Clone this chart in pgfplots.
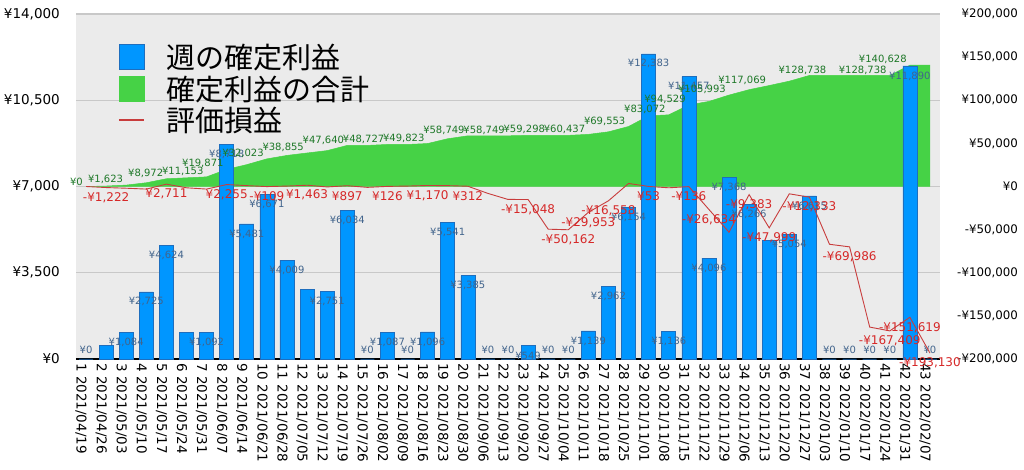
\documentclass[border=0pt]{standalone}
\usepackage{fontspec}
\setmainfont{DejaVu Sans}
\newfontfamily\jp{Noto Sans CJK JP}
\usepackage{pgfplots}
\usepackage{pgfplotstable}
\pgfplotsset{compat=1.18}

\definecolor{bg}{RGB}{235,235,235}
\definecolor{gridc}{RGB}{200,200,200}
\definecolor{barblue}{RGB}{0,150,255}
\definecolor{baredge}{RGB}{30,110,190}
\definecolor{areagreen}{RGB}{70,210,70}
\definecolor{linered}{RGB}{200,60,60}
\definecolor{labred}{RGB}{214,40,40}
\definecolor{labgreen}{RGB}{30,120,40}
\definecolor{labblue}{RGB}{65,100,140}

\pgfplotstableread{
wk w c e wlab zlab clab elab
1 0 0 0 {} ¥0 ¥0 {}
2 539 539 -1222 {} {} {} -¥1,222
3 1084 1623 -2000 ¥1,084 {} ¥1,623 {}
4 2725 4348 -3000 ¥2,725 {} {} {}
5 4624 8972 2711 ¥4,624 {} ¥8,972 ¥2,711
6 1089 10061 -1500 {} {} {} {}
7 1092 11153 -3000 ¥1,092 {} ¥11,153 {}
8 8718 19871 2255 ¥8,718 {} ¥19,871 ¥2,255
9 5481 25352 1000 ¥5,481 {} {} {}
10 6671 32023 -109 ¥6,671 {} ¥32,023 -¥109
11 4009 36032 500 ¥4,009 {} {} {}
12 2823 38855 1463 {} {} ¥38,855 ¥1,463
13 2751 41606 -500 ¥2,751 {} {} {}
14 6034 47640 897 ¥6,034 {} ¥47,640 ¥897
15 0 47640 -1000 {} ¥0 {} {}
16 1087 48727 126 ¥1,087 {} ¥48,727 ¥126
17 0 48727 500 {} ¥0 {} {}
18 1096 49823 1170 ¥1,096 {} ¥49,823 ¥1,170
19 5541 55364 1000 ¥5,541 {} {} {}
20 3385 58749 312 ¥3,385 {} ¥58,749 ¥312
21 0 58749 -8000 {} ¥0 {} {}
22 0 58749 -15000 {} ¥0 ¥58,749 {}
23 549 59298 -15048 ¥549 {} {} -¥15,048
24 0 59298 -49500 {} ¥0 ¥59,298 {}
25 0 59298 -50162 {} ¥0 {} -¥50,162
26 1139 60437 -29953 ¥1,139 {} ¥60,437 -¥29,953
27 2962 63399 -16558 ¥2,962 {} {} -¥16,558
28 6154 69553 3500 ¥6,154 {} ¥69,553 {}
29 12383 81936 53 ¥12,383 {} {} ¥53
30 1136 83072 -1500 ¥1,136 {} ¥83,072 {}
31 11457 94529 -136 ¥11,457 {} ¥94,529 -¥136
32 4096 98625 -26634 ¥4,096 {} {} -¥26,634
33 7368 105993 -53000 ¥7,368 {} ¥105,993 {}
34 6266 112259 -9383 ¥6,266 {} {} -¥9,383
35 4810 117069 -47999 {} {} ¥117,069 -¥47,999
36 5054 122123 -8500 ¥5,054 {} {} {}
37 6615 128738 -12333 ¥6,615 {} {} -¥12,333
38 0 128738 -67000 {} ¥0 ¥128,738 {}
39 0 128738 -69986 {} ¥0 {} -¥69,986
40 0 128738 -163000 {} ¥0 {} {}
41 0 128738 -167409 {} ¥0 ¥128,738 -¥167,409
42 11890 140628 -151619 ¥11,890 {} ¥140,628 -¥151,619
43 0 140628 -193130 {} ¥0 {} -¥193,130
}\data

\pgfplotsset{base/.style={scale only axis, width=864pt, height=345pt,
  xmin=0.5, xmax=43.5, at={(0pt,0pt)}, anchor=south west,
  scaled x ticks=false, scaled y ticks=false}}

\begin{document}
\begin{tikzpicture}
\useasboundingbox (-76pt,-111pt) rectangle (948pt,359pt);
% background, grid, cumulative area (right scale)
\begin{axis}[base, ymin=-200000, ymax=200000,
  axis background/.style={fill=bg},
  ytick={-200000,-100000,0,100000,200000}, yticklabels={},
  xtick=\empty, ymajorgrids, grid style={gridc, line width=1.2pt},
  axis line style={draw=none}, major tick length=0pt]
\addplot[fill=areagreen, draw=areagreen, line width=0.5pt, mark=none] table[x=wk, y=c] {\data} \closedcycle;
\end{axis}
% weekly bars (left scale)
\begin{axis}[base, ymin=0, ymax=14000, clip=false,
  ytick={0,3500,7000,10500,14000},
  yticklabels={{¥0},{¥3,500},{¥7,000},{¥10,500},{¥14,000}},
  xtick={1,2,...,43},
  xticklabels={1 2021/04/19,2 2021/04/26,3 2021/05/03,4 2021/05/10,5 2021/05/17,6 2021/05/24,7 2021/05/31,8 2021/06/07,9 2021/06/14,10 2021/06/21,11 2021/06/28,12 2021/07/05,13 2021/07/12,14 2021/07/19,15 2021/07/26,16 2021/08/02,17 2021/08/09,18 2021/08/16,19 2021/08/23,20 2021/08/30,21 2021/09/06,22 2021/09/13,23 2021/09/20,24 2021/09/27,25 2021/10/04,26 2021/10/11,27 2021/10/18,28 2021/10/25,29 2021/11/01,30 2021/11/08,31 2021/11/15,32 2021/11/22,33 2021/11/29,34 2021/12/06,35 2021/12/13,36 2021/12/20,37 2021/12/27,38 2022/01/03,39 2022/01/10,40 2022/01/17,41 2022/01/24,42 2022/01/31,43 2022/02/07},
  axis x line*=bottom, axis y line*=left,
  x axis line style={black, line width=2pt},
  y axis line style={draw=none}, major tick length=0pt,
  yticklabel style={anchor=east, inner sep=0pt, xshift=-16pt, font=\fontsize{13.5}{14}\selectfont},
  xticklabel style={anchor=west, inner sep=0pt, xshift=-5pt, yshift=-4pt, rotate=-90, font=\fontsize{13.5}{14}\selectfont}]
\addplot[ybar, bar width=14pt, bar shift=0pt, fill=barblue, draw=baredge, line width=0.6pt,
  nodes near coords, point meta=explicit symbolic,
  every node near coord/.append style={anchor=center, yshift=-10pt, inner sep=0pt, font=\fontsize{10}{10}\selectfont, text=labblue}]
  table[x=wk, y=w, meta=wlab] {\data};
\addplot[draw=none, mark=none, nodes near coords, point meta=explicit symbolic,
  every node near coord/.append style={anchor=center, yshift=9pt, inner sep=0pt, font=\fontsize{10}{10}\selectfont, text=labblue}]
  table[x=wk, y=w, meta=zlab] {\data};
\end{axis}
% evaluation line, labels, right axis, legend
\begin{axis}[base, ymin=-200000, ymax=200000, clip=false,
  axis x line=none, axis y line*=right, y axis line style={draw=none},
  major tick length=0pt,
  ytick={-200000,-150000,-100000,-50000,0,50000,100000,150000,200000},
  yticklabels={{-¥200,000},{-¥150,000},{-¥100,000},{-¥50,000},{¥0},{¥50,000},{¥100,000},{¥150,000},{¥200,000}},
  yticklabel style={anchor=east, inner sep=0pt, xshift=78pt, font=\fontsize{11.8}{12}\selectfont},
  legend style={at={(0.0486,0.913)}, anchor=north west, draw=none, fill=none,
    font=\jp\fontsize{29}{31}\selectfont, row sep=5.5pt, inner sep=0pt,
    nodes={inner sep=0pt}, /tikz/every odd column/.append style={column sep=22pt}},
  legend cell align=left]
\addlegendimage{legend image code/.code={\draw[fill=barblue, draw=baredge] (0pt,-12.5pt) rectangle (25pt,12.5pt);}}
\addlegendentry{週の確定利益}
\addlegendimage{legend image code/.code={\draw[fill=areagreen, draw=areagreen] (0pt,-12.5pt) rectangle (25pt,12.5pt);}}
\addlegendentry{確定利益の合計}
\addlegendimage{legend image code/.code={\draw[draw=linered, line width=1.2pt] (0pt,0pt) -- (25pt,0pt);}}
\addlegendentry{評価損益}
\addplot[linered, line width=0.9pt, mark=none, forget plot] table[x=wk, y=e] {\data};
\addplot[draw=none, mark=none, forget plot, nodes near coords, point meta=explicit symbolic,
  every node near coord/.append style={anchor=south east, xshift=-3pt, yshift=1pt, inner sep=0pt, font=\fontsize{10}{10}\selectfont, text=labgreen}]
  table[x=wk, y=c, meta=clab] {\data};
\addplot[draw=none, mark=none, forget plot, nodes near coords, point meta=explicit symbolic,
  every node near coord/.append style={anchor=center, yshift=-10pt, inner sep=0pt, font=\fontsize{12}{12}\selectfont, text=labred}]
  table[x=wk, y=e, meta=elab] {\data};
\end{axis}
\end{tikzpicture}
\end{document}
